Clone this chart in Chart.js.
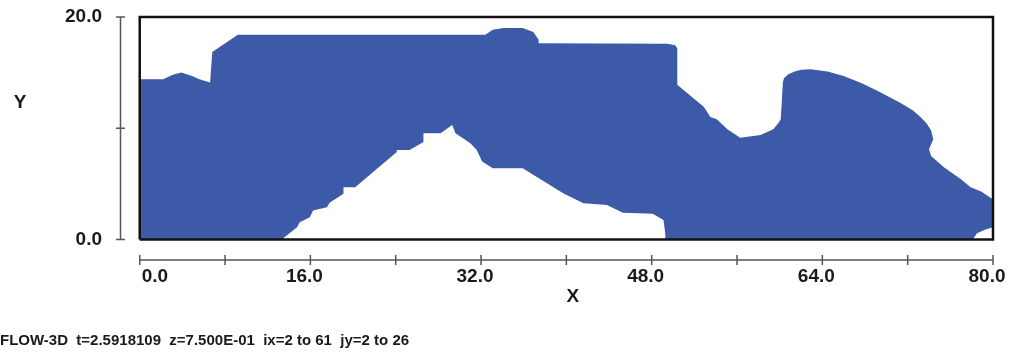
<!DOCTYPE html>
<html>
<head>
<meta charset="utf-8">
<title>FLOW-3D fluid fraction</title>
<script src="https://cdn.jsdelivr.net/npm/chart.js@4"></script>
<style>
  html, body { margin: 0; padding: 0; background: #fff; }
  #wrap { width: 1010px; height: 358px; }
</style>
</head>
<body>
<div id="wrap"><canvas id="flow" width="1010" height="358"></canvas></div>
<script>
// free surface of the fluid, read left to right
const surfaceX = [0, 2.2, 3.1, 3.9, 4.9, 5.6, 6.6, 6.8, 9.2, 32.4, 33.1, 34.1, 35.9, 36.9, 37.4, 37.4,
  49.5, 50.2, 50.4, 50.4, 52.9, 53.5, 54.1, 55.1, 56.3, 58.2, 59.4, 59.9, 60.1, 60.3, 60.4, 60.8, 61.4, 62.0,
  62.9, 64.5, 66.0, 67.7, 69.2, 71.3, 72.5, 73.2, 73.8, 74.2, 74.4, 74.0, 74.2, 75.4, 77.0, 77.9, 78.9, 80.0];
const surfaceY = [14.4, 14.4, 14.8, 15.0, 14.7, 14.4, 14.1, 16.85, 18.4, 18.4, 18.85, 19.0, 19.0, 18.65, 17.95, 17.65,
  17.6, 17.45, 17.2, 13.9, 11.9, 11.0, 10.8, 9.9, 9.15, 9.4, 9.9, 10.5, 10.8, 14.1, 14.5, 14.85, 15.1, 15.25,
  15.3, 15.1, 14.7, 14.05, 13.35, 12.3, 11.6, 11.0, 10.4, 9.8, 9.0, 8.1, 7.5, 6.5, 5.4, 4.7, 4.3, 3.6];

// obstacle (empty mound under the fluid)
const obstacleX = [13.4, 13.45, 14.75, 15.0, 15.95, 16.25, 17.55, 17.8, 19.1, 19.1, 20.2, 24.1, 24.1, 25.3,
  26.6, 26.6, 28.2, 29.3, 29.6, 31.0, 31.6, 32.1, 33.1, 35.9, 39.7, 41.6, 43.8, 45.3, 48.1, 49.1, 49.3, 49.3];
const obstacleY = [0, 0.1, 1.1, 1.55, 2.0, 2.6, 2.9, 3.3, 4.1, 4.7, 4.7, 7.85, 8.05, 8.05,
  8.75, 9.55, 9.55, 10.3, 9.55, 8.65, 8.05, 7.0, 6.4, 6.4, 4.15, 3.25, 3.1, 2.4, 2.3, 1.75, 0.4, 0];

// small empty corner at the outflow
const cornerX = [78.1, 78.5, 79.3, 80.0];
const cornerY = [0, 0.55, 0.9, 1.1];

const domainX = [0, 80];
const domainY = [0, 20];
const xTicks = [0, 8, 16, 24, 32, 40, 48, 56, 64, 72, 80];
const xTickLabels = ['0.0', '', '16.0', '', '32.0', '', '48.0', '', '64.0', '', '80.0'];
const yTicks = [0, 10, 20];
const yTickLabels = ['0.0', '', '20.0'];
const footer = 'FLOW-3D  t=2.5918109  z=7.500E-01  ix=2 to 61  jy=2 to 26';

const FLUID = '#3c5aa8';
const AXIS = '#555555';
const INK = '#1a1a1a';
const FAMILY = "'Liberation Sans', Arial, sans-serif";
const axisGap = 1.85; // gap between the frame and the detached axes, data units

function zip(xs, ys) {
    return xs.map((x, i) => ({ x: x, y: ys[i] }));
}

const frame = zip(
    [domainX[0], domainX[1], domainX[1], domainX[0], domainX[0]],
    [domainY[0], domainY[0], domainY[1], domainY[1], domainY[0]]
);

// axes in the plot are drawn apart from the frame, with ticks crossing the line
const detachedAxes = {
    id: 'detachedAxes',
    afterDraw(chart) {
        const { ctx, chartArea } = chart;
        const x = chart.scales.x;
        const y = chart.scales.y;
        const ax = chartArea.left + 0.5;
        const ay = chartArea.bottom;
        ctx.save();
        ctx.strokeStyle = AXIS;
        ctx.lineWidth = 1.5;
        ctx.beginPath();
        ctx.moveTo(x.getPixelForValue(domainX[0]), ay);
        ctx.lineTo(x.getPixelForValue(domainX[1]), ay);
        ctx.moveTo(ax, y.getPixelForValue(domainY[0]));
        ctx.lineTo(ax, y.getPixelForValue(domainY[1]));
        xTicks.forEach((v) => {
            const px = x.getPixelForValue(v);
            ctx.moveTo(px, ay - 5);
            ctx.lineTo(px, ay + 5);
        });
        yTicks.forEach((v) => {
            const py = y.getPixelForValue(v);
            ctx.moveTo(ax - 4.5, py);
            ctx.lineTo(ax + 4.5, py);
        });
        ctx.stroke();

        ctx.fillStyle = INK;
        ctx.font = 'bold 19px ' + FAMILY;
        ctx.textAlign = 'center';
        ctx.textBaseline = 'middle';
        ctx.fillText('X', x.getPixelForValue(40.6), ay + 37);
        ctx.fillText('Y', 20, y.getPixelForValue(12.3));
        ctx.restore();
    }
};

const tickFont = { family: FAMILY, size: 19, weight: 'bold' };

new Chart(document.getElementById('flow'), {
    type: 'line',
    data: {
        datasets: [
            {
                label: 'frame',
                data: frame,
                borderColor: '#111111',
                borderWidth: 2.5,
                fill: false,
                clip: false,
                order: 0
            },
            {
                label: 'obstacle',
                data: zip(obstacleX, obstacleY),
                borderWidth: 0,
                backgroundColor: '#ffffff',
                fill: 'origin',
                order: 1
            },
            {
                label: 'corner',
                data: zip(cornerX, cornerY),
                borderWidth: 0,
                backgroundColor: '#ffffff',
                fill: 'origin',
                order: 1
            },
            {
                label: 'fluid',
                data: zip(surfaceX, surfaceY),
                borderWidth: 0,
                borderColor: FLUID,
                backgroundColor: FLUID,
                fill: 'origin',
                order: 2
            }
        ]
    },
    options: {
        responsive: false,
        animation: false,
        devicePixelRatio: 1,
        elements: { point: { radius: 0, hoverRadius: 0 }, line: { tension: 0 } },
        layout: { padding: { top: 17, right: 17, bottom: 0, left: 0 } },
        plugins: {
            legend: { display: false },
            tooltip: { enabled: false },
            title: {
                display: true,
                text: footer,
                position: 'bottom',
                align: 'start',
                color: INK,
                font: { family: FAMILY, size: 15, weight: 'bold' },
                padding: { top: 0, bottom: 8 }
            }
        },
        scales: {
            x: {
                type: 'linear',
                min: domainX[0] - axisGap,
                max: domainX[1],
                afterBuildTicks: (s) => { s.ticks = xTicks.map((value) => ({ value })); },
                afterFit: (s) => { s.height = 72; s.paddingLeft = 0; s.paddingRight = 0; },
                grid: { display: false, drawTicks: false },
                border: { display: false },
                ticks: {
                    autoSkip: false,
                    maxRotation: 0,
                    padding: 5,
                    labelOffset: -6,
                    color: INK,
                    font: tickFont,
                    // the first label sits right of its tick in the original
                    callback: (v, i) => (i === 0 ? '        ' : '') + xTickLabels[xTicks.indexOf(v)]
                }
            },
            y: {
                type: 'linear',
                min: domainY[0] - axisGap,
                max: domainY[1],
                afterBuildTicks: (s) => { s.ticks = yTicks.map((value) => ({ value })); },
                afterFit: (s) => { s.width = 120; s.paddingTop = 0; s.paddingBottom = 0; },
                grid: { display: false, drawTicks: false },
                border: { display: false },
                ticks: {
                    padding: 18,
                    color: INK,
                    font: tickFont,
                    callback: (v) => yTickLabels[yTicks.indexOf(v)]
                }
            }
        }
    },
    plugins: [detachedAxes]
});
</script>
</body>
</html>
